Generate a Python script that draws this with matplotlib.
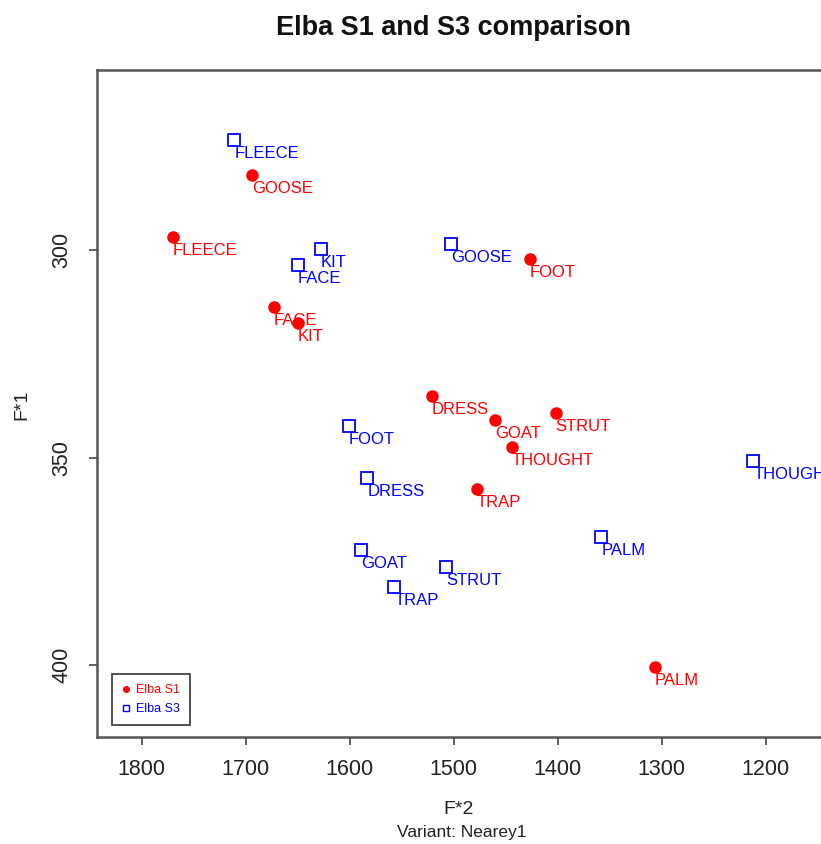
import matplotlib.pyplot as plt
from matplotlib.lines import Line2D

plt.rcParams['font.family'] = ['Liberation Sans', 'DejaVu Sans']

# vowel labels
s1_words = ['FLEECE', 'GOOSE', 'FOOT', 'FACE', 'KIT', 'DRESS', 'GOAT',
            'STRUT', 'THOUGHT', 'TRAP', 'PALM']
s3_words = ['FLEECE', 'KIT', 'FACE', 'GOOSE', 'FOOT', 'DRESS', 'GOAT',
            'STRUT', 'TRAP', 'PALM', 'THOUGHT']

# normalised formants (F*2 on x, F*1 on y)
s1_f2 = [1770, 1694, 1427, 1673, 1650, 1521, 1460, 1402, 1444, 1478, 1307]
s1_f1 = [296.9, 281.9, 302.2, 313.7, 317.6, 335.2, 341.0, 339.3, 347.5, 357.6, 400.5]
s3_f2 = [1711, 1628, 1650, 1503, 1601, 1583, 1589, 1507, 1557, 1358, 1212]
s3_f1 = [273.5, 299.8, 303.6, 298.6, 342.4, 354.9, 372.3, 376.4, 381.2, 369.2, 350.8]

xticks = [1800, 1700, 1600, 1500, 1400, 1300, 1200]
yticks = [300, 350, 400]

fig = plt.figure(figsize=(8.21, 8.44), dpi=100)
ax = fig.add_axes([97 / 821, 107 / 844, 726 / 821, 667 / 844])

ax.plot(s1_f2, s1_f1, 'o', color='red', markersize=8, linestyle='none')
ax.plot(s3_f2, s3_f1, 's', color='blue', markerfacecolor='none',
        markersize=8.5, markeredgewidth=1.3, linestyle='none')

for w, x, y in zip(s1_words, s1_f2, s1_f1):
    ax.annotate(w, (x, y), xytext=(0, -4), textcoords='offset points',
                ha='left', va='top', color='red', fontsize=12,
                annotation_clip=True, clip_on=True)
for w, x, y in zip(s3_words, s3_f2, s3_f1):
    ax.annotate(w, (x, y), xytext=(0, -4), textcoords='offset points',
                ha='left', va='top', color='blue', fontsize=12,
                annotation_clip=True, clip_on=True)

ax.set_xlim(1843, 1145)
ax.set_ylim(417.3, 256.6)
ax.set_xticks(xticks)
ax.set_yticks(yticks)
ax.tick_params(axis='both', labelsize=15.5, length=5.5, width=1.2,
               color='#444444', labelcolor='#222222')
ax.tick_params(axis='x', pad=10)
ax.tick_params(axis='y', pad=12)
for lab in ax.get_yticklabels():
    lab.set_rotation(90)
    lab.set_va('center')

for side in ['top', 'left', 'bottom']:
    ax.spines[side].set_color('#555555')
    ax.spines[side].set_linewidth(1.8)
ax.spines['right'].set_visible(False)

handles = [
    Line2D([], [], marker='o', color='red', linestyle='none', markersize=4),
    Line2D([], [], marker='s', color='blue', markerfacecolor='none',
           linestyle='none', markersize=4, markeredgewidth=1),
]
leg = ax.legend(handles, ['Elba S1', 'Elba S3'], loc='lower left',
                bbox_to_anchor=(0.0207, 0.018), borderaxespad=0,
                fontsize=9, fancybox=False, framealpha=1,
                handlelength=0.6, handletextpad=0.5, borderpad=0.8,
                labelspacing=0.55)
leg.get_frame().set_edgecolor('#333333')
leg.get_frame().set_linewidth(1.2)
for t, c in zip(leg.get_texts(), ['red', 'blue']):
    t.set_color(c)

fig.text(453 / 821, 1 - 28 / 844, 'Elba S1 and S3 comparison',
         ha='center', va='center', fontsize=19.5, fontweight='bold', color='#111111')
fig.text(459 / 821, 1 - 810 / 844, 'F*2', ha='center', va='center',
         fontsize=14, color='#222222')
fig.text(462 / 821, 1 - 833 / 844, 'Variant: Nearey1', ha='center', va='center',
         fontsize=12.5, color='#222222')
fig.text(22 / 821, 1 - 405 / 844, 'F*1', ha='center', va='center',
         rotation=90, fontsize=14, color='#222222')

fig.savefig('out.png', dpi=100)
